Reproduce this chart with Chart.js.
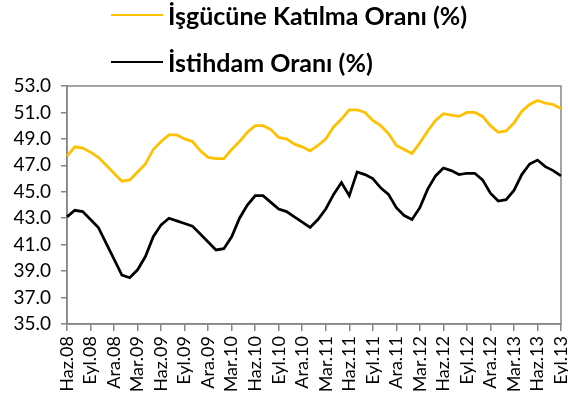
<!DOCTYPE html>
<html lang="tr">
<head>
<meta charset="utf-8">
<script src="https://cdn.jsdelivr.net/npm/chart.js@4.4.1/dist/chart.umd.min.js"></script>
<style>
  body { margin: 0; background: #fff; }
  #wrap { position: relative; width: 568px; height: 406px; font-family: Lato, "Noto Sans", sans-serif; }
  #chart { position: absolute; left: 0; top: 0; }
  .legend-row { position: absolute; left: 111px; height: 30px; display: flex; align-items: center;
                font-weight: bold; font-size: 25px; color: #000; white-space: nowrap; }
  .swatch { display: inline-block; width: 52px; height: 2.5px; margin-right: 5px; }
</style>
</head>
<body>
<div id="wrap">
  <canvas id="chart" width="568" height="406"></canvas>
  <div class="legend-row" style="top:0px"><span class="swatch" style="background:#FFC000"></span>İşgücüne Katılma Oranı (%)</div>
  <div class="legend-row" style="top:47px"><span class="swatch" style="background:#000"></span>İstihdam Oranı (%)</div>
</div>
<script>
// monthly periods, Haz.08 .. Eyl.13
const categories = [
    'Haz.08', 'Tem.08', 'Ağu.08', 'Eyl.08', 'Eki.08', 'Kas.08', 'Ara.08',
    'Oca.09', 'Şub.09', 'Mar.09', 'Nis.09', 'May.09', 'Haz.09', 'Tem.09', 'Ağu.09', 'Eyl.09', 'Eki.09', 'Kas.09', 'Ara.09',
    'Oca.10', 'Şub.10', 'Mar.10', 'Nis.10', 'May.10', 'Haz.10', 'Tem.10', 'Ağu.10', 'Eyl.10', 'Eki.10', 'Kas.10', 'Ara.10',
    'Oca.11', 'Şub.11', 'Mar.11', 'Nis.11', 'May.11', 'Haz.11', 'Tem.11', 'Ağu.11', 'Eyl.11', 'Eki.11', 'Kas.11', 'Ara.11',
    'Oca.12', 'Şub.12', 'Mar.12', 'Nis.12', 'May.12', 'Haz.12', 'Tem.12', 'Ağu.12', 'Eyl.12', 'Eki.12', 'Kas.12', 'Ara.12',
    'Oca.13', 'Şub.13', 'Mar.13', 'Nis.13', 'May.13', 'Haz.13', 'Tem.13', 'Ağu.13', 'Eyl.13'
];

// only every third period gets a label on the axis
const tickLabels = [
    'Haz.08', 'Eyl.08', 'Ara.08', 'Mar.09', 'Haz.09', 'Eyl.09', 'Ara.09', 'Mar.10', 'Haz.10', 'Eyl.10', 'Ara.10',
    'Mar.11', 'Haz.11', 'Eyl.11', 'Ara.11', 'Mar.12', 'Haz.12', 'Eyl.12', 'Ara.12', 'Mar.13', 'Haz.13', 'Eyl.13'
];

const participation = [
    47.7, 48.4, 48.3, 48.0, 47.6, 47.0, 46.4,
    45.8, 45.9, 46.5, 47.1, 48.2, 48.8, 49.3, 49.3, 49.0, 48.8, 48.1, 47.6,
    47.5, 47.5, 48.2, 48.8, 49.5, 50.0, 50.0, 49.7, 49.1, 49.0, 48.6, 48.4,
    48.1, 48.5, 49.0, 49.9, 50.5, 51.2, 51.2, 51.0, 50.4, 50.0, 49.4, 48.5,
    48.2, 47.9, 48.7, 49.6, 50.4, 50.9, 50.8, 50.7, 51.0, 51.0, 50.7, 50.0,
    49.5, 49.6, 50.2, 51.1, 51.6, 51.9, 51.7, 51.6, 51.3
];

const employment = [
    43.1, 43.6, 43.5, 42.9, 42.3, 41.1, 39.9,
    38.7, 38.5, 39.1, 40.1, 41.6, 42.5, 43.0, 42.8, 42.6, 42.4, 41.8, 41.2,
    40.6, 40.7, 41.6, 43.0, 44.0, 44.7, 44.7, 44.2, 43.7, 43.5, 43.1, 42.7,
    42.3, 42.9, 43.7, 44.8, 45.7, 44.7, 46.5, 46.3, 46.0, 45.3, 44.8, 43.8,
    43.2, 42.9, 43.8, 45.2, 46.2, 46.8, 46.6, 46.3, 46.4, 46.4, 45.9, 44.9,
    44.3, 44.4, 45.1, 46.3, 47.1, 47.4, 46.9, 46.6, 46.2
];

const yTicks = [35, 37, 39, 41, 43, 45, 47, 49, 51, 53];

const AXIS_GREY = '#868686';
const FONT = 'Lato, "Noto Sans", sans-serif';

// grey frame round the plot area
const plotBorder = {
    id: 'plotBorder',
    beforeDatasetsDraw(chart) {
        const { ctx, chartArea: a } = chart;
        ctx.save();
        ctx.strokeStyle = AXIS_GREY;
        ctx.lineWidth = 1.5;
        ctx.strokeRect(a.left, a.top, a.right - a.left, a.bottom - a.top);
        ctx.restore();
    }
};

new Chart(document.getElementById('chart'), {
    type: 'line',
    data: {
        labels: categories,
        datasets: [
            { label: 'İşgücüne Katılma Oranı (%)', data: participation, borderColor: '#FFC000', borderWidth: 2.75, pointRadius: 0, tension: 0 },
            { label: 'İstihdam Oranı (%)', data: employment, borderColor: '#000000', borderWidth: 2.75, pointRadius: 0, tension: 0 }
        ]
    },
    options: {
        responsive: false,
        animation: false,
        layout: { padding: { top: 86, right: 7, left: 0, bottom: 0 } },
        plugins: { legend: { display: false }, tooltip: { enabled: false } },
        scales: {
            x: {
                offset: false,
                grid: { drawOnChartArea: false, tickLength: 7, color: AXIS_GREY, lineWidth: 1.5 },
                border: { color: AXIS_GREY, width: 1.5 },
                ticks: {
                    autoSkip: false,
                    minRotation: 90,
                    maxRotation: 90,
                    padding: 5,
                    color: '#000',
                    font: { family: FONT, size: 18 },
                    callback(value, index) {
                        const label = categories[index];
                        return tickLabels.includes(label) ? label : null;
                    }
                },
                afterFit(scale) {
                    scale.height = 82;
                    // rotated end labels should not push the plot inwards
                    scale.paddingLeft = 0;
                    scale.paddingRight = 0;
                }
            },
            y: {
                min: yTicks[0],
                max: yTicks[yTicks.length - 1],
                grid: { drawOnChartArea: false, tickLength: 6, color: AXIS_GREY, lineWidth: 1.5 },
                border: { color: AXIS_GREY, width: 1.5 },
                afterBuildTicks(scale) { scale.ticks = yTicks.map(v => ({ value: v })); },
                ticks: {
                    padding: 10,
                    color: '#000',
                    font: { family: FONT, size: 19 },
                    callback: v => Number(v).toFixed(1)
                },
                afterFit(scale) { scale.width = 67; }
            }
        }
    },
    plugins: [plotBorder]
});
</script>
</body>
</html>
